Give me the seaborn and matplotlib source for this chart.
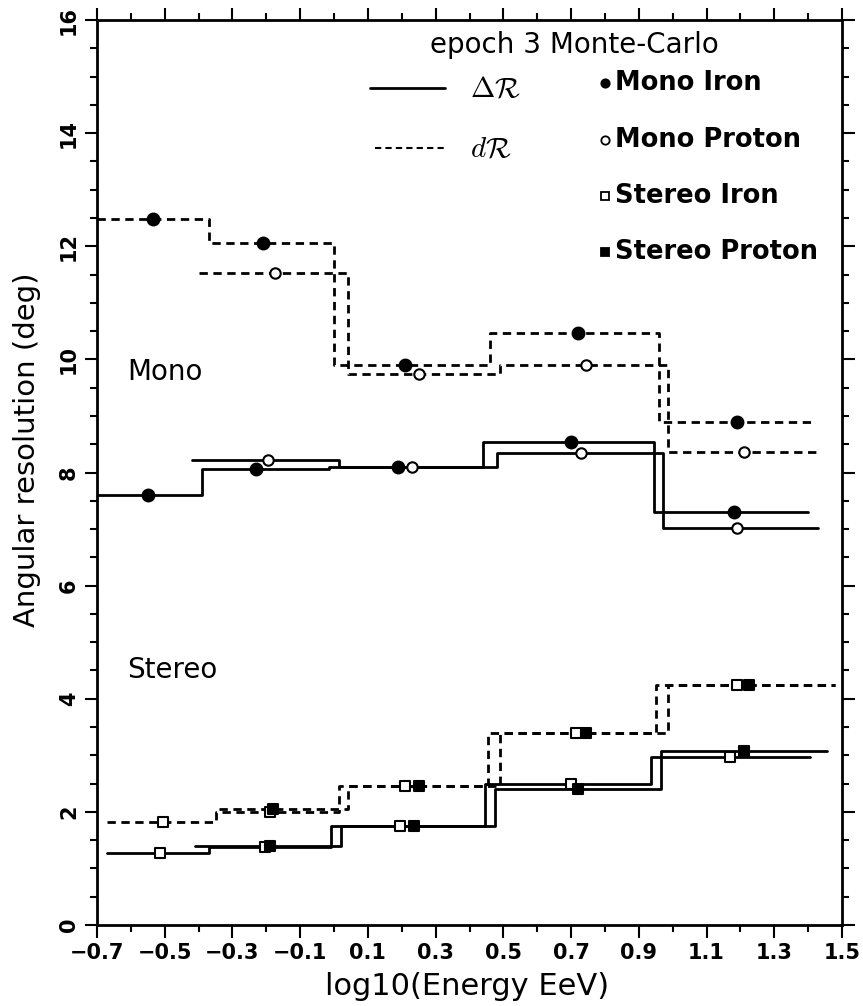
import numpy as np
import pandas as pd
import matplotlib
matplotlib.use("Agg")
import matplotlib.pyplot as plt
import seaborn as sns
from matplotlib.ticker import MultipleLocator, FixedLocator

# ---------------- data ----------------
# Mono, dR (dashed)
mono_iron_dR_edges = [-0.70, -0.37, 0.00, 0.46, 0.96, 1.41]
mono_iron_dR_vals = [12.48, 12.06, 9.90, 10.46, 8.90]
mono_iron_dR_mx = [-0.535, -0.21, 0.21, 0.72, 1.19]

mono_prot_dR_edges = [-0.40, 0.04, 0.49, 0.985, 1.43]
mono_prot_dR_vals = [11.53, 9.74, 9.90, 8.37]
mono_prot_dR_mx = [-0.175, 0.25, 0.745, 1.21]

# Mono, Delta R (solid)
mono_iron_DR_edges = [-0.70, -0.39, -0.015, 0.44, 0.945, 1.40]
mono_iron_DR_vals = [7.61, 8.06, 8.10, 8.54, 7.30]
mono_iron_DR_mx = [-0.55, -0.23, 0.19, 0.70, 1.18]

mono_prot_DR_edges = [-0.42, 0.015, 0.48, 0.97, 1.43]
mono_prot_DR_vals = [8.22, 8.10, 8.35, 7.02]
mono_prot_DR_mx = [-0.195, 0.23, 0.73, 1.19]

# Stereo, dR (dashed)
st_iron_dR_edges = [-0.67, -0.35, 0.015, 0.455, 0.95, 1.48]
st_iron_dR_vals = [1.83, 2.00, 2.45, 3.40, 4.25]
st_iron_dR_mx = [-0.505, -0.19, 0.21, 0.715, 1.19]

st_prot_dR_edges = [-0.34, 0.04, 0.49, 0.985, 1.48]
st_prot_dR_vals = [2.05, 2.45, 3.40, 4.25]
st_prot_dR_mx = [-0.18, 0.25, 0.745, 1.225]

# Stereo, Delta R (solid)
st_iron_DR_edges = [-0.67, -0.37, -0.01, 0.445, 0.935, 1.405]
st_iron_DR_vals = [1.28, 1.38, 1.75, 2.50, 2.97]
st_iron_DR_mx = [-0.515, -0.205, 0.195, 0.70, 1.17]

st_prot_DR_edges = [-0.41, 0.02, 0.475, 0.965, 1.455]
st_prot_DR_vals = [1.40, 1.75, 2.40, 3.08]
st_prot_DR_mx = [-0.19, 0.235, 0.72, 1.21]

x_ticks = [-0.7, -0.5, -0.3, -0.1, 0.1, 0.3, 0.5, 0.7, 0.9, 1.1, 1.3, 1.5]
x_ticklabels = ["\u22120.7", "\u22120.5", "\u22120.3", "\u22120.1", "0.1", "0.3",
                "0.5", "0.7", "0.9", "1.1", "1.3", "1.5"]
y_ticks = [0, 2, 4, 6, 8, 10, 12, 14, 16]

legend_title = "epoch 3 Monte-Carlo"
legend_labels = ["Mono Iron", "Mono Proton", "Stereo Iron", "Stereo Proton"]
line_labels = [r"$\Delta\mathcal{R}$", r"$d\mathcal{R}$"]

# ---------------- style ----------------
sns.set_theme(style="ticks")
plt.rcParams["font.family"] = ["DejaVu Sans"]
plt.rcParams["mathtext.fontset"] = "cm"
for k in ["text.color", "axes.labelcolor", "xtick.color", "ytick.color", "axes.edgecolor"]:
    plt.rcParams[k] = "black"

fig = plt.figure(figsize=(8.63, 10.06), dpi=100)
ax = fig.add_axes([0.1124, 0.0805, 0.8633, 0.8996])

LW = 2.0
DASH = (0, (3, 2))

def step(edges, vals, ls):
    df = pd.DataFrame({"x": edges, "y": list(vals) + [vals[-1]]})
    sns.lineplot(data=df, x="x", y="y", ax=ax, color="black", lw=LW,
                 linestyle=ls, drawstyle="steps-post", sort=False,
                 estimator=None, legend=False)

def marks(mx, vals, marker, filled, size=8.5):
    df = pd.DataFrame({"x": mx, "y": vals})
    sns.scatterplot(data=df, x="x", y="y", ax=ax, marker=marker, s=size**2,
                    facecolor="black" if filled else "white",
                    edgecolor="black", linewidth=1.5, zorder=5, legend=False)

step(mono_iron_dR_edges, mono_iron_dR_vals, DASH)
step(mono_prot_dR_edges, mono_prot_dR_vals, DASH)
step(mono_iron_DR_edges, mono_iron_DR_vals, "-")
step(mono_prot_DR_edges, mono_prot_DR_vals, "-")
step(st_iron_dR_edges, st_iron_dR_vals, DASH)
step(st_prot_dR_edges, st_prot_dR_vals, DASH)
step(st_iron_DR_edges, st_iron_DR_vals, "-")
step(st_prot_DR_edges, st_prot_DR_vals, "-")

marks(mono_iron_dR_mx, mono_iron_dR_vals, "o", True)
marks(mono_prot_dR_mx, mono_prot_dR_vals, "o", False, 7.5)
marks(mono_iron_DR_mx, mono_iron_DR_vals, "o", True)
marks(mono_prot_DR_mx, mono_prot_DR_vals, "o", False, 7.5)
marks(st_iron_dR_mx, st_iron_dR_vals, "s", False, 7.5)
marks(st_prot_dR_mx, st_prot_dR_vals, "s", True, 7.5)
marks(st_iron_DR_mx, st_iron_DR_vals, "s", False, 7.5)
marks(st_prot_DR_mx, st_prot_DR_vals, "s", True, 7.5)

# ---------------- axes ----------------
ax.set_xlim(-0.7, 1.5)
ax.set_ylim(0, 16)
ax.xaxis.set_major_locator(FixedLocator(x_ticks))
ax.xaxis.set_minor_locator(MultipleLocator(0.1))
ax.set_xticklabels(x_ticklabels, fontsize=15, fontweight="bold")
ax.yaxis.set_major_locator(FixedLocator(y_ticks))
ax.yaxis.set_minor_locator(MultipleLocator(0.5))
ax.set_yticklabels([str(t) for t in y_ticks], fontsize=15, fontweight="bold",
                   rotation=90, va="center")
ax.tick_params(which="both", direction="out", top=True, right=True,
               width=1.5, color="black")
ax.tick_params(which="major", length=9, pad=4)
ax.tick_params(which="minor", length=5)
for s in ax.spines.values():
    s.set_linewidth(2.0)
    s.set_color("black")
ax.set_xlabel("log10(Energy EeV)", fontsize=22)
ax.xaxis.set_label_coords(0.497, -0.052)
ax.set_ylabel("Angular resolution (deg)", fontsize=21)
ax.yaxis.set_label_coords(-0.075, 0.525)

# region labels
ax.text(-0.61, 9.78, "Mono", fontsize=20, va="center", ha="left")
ax.text(-0.61, 4.5, "Stereo", fontsize=20, va="center", ha="left")

# ---------------- legend block ----------------
ax.text(0.71, 15.55, legend_title, fontsize=20, ha="center", va="center")
leg_line_y = [14.79, 13.73]
ax.plot([0.106, 0.328], [leg_line_y[0]] * 2, color="black", lw=LW)
ax.plot([0.121, 0.328], [leg_line_y[1]] * 2, color="black", lw=1.5, linestyle=(0, (3, 2)))
for yy, lab in zip(leg_line_y, line_labels):
    ax.text(0.40, yy, lab, fontsize=21, ha="left", va="center")

leg_y = [14.89, 13.87, 12.88, 11.89]
leg_marker = ["o", "o", "s", "s"]
leg_fill = [True, False, False, True]
for yy, m, f, lab in zip(leg_y, leg_marker, leg_fill, legend_labels):
    ax.plot([0.80], [yy], marker=m, ms=6 if m == "o" else 5.5,
            mfc="black" if f else "white", mec="black", mew=1.3, ls="none")
    ax.text(0.83, yy, lab, fontsize=18.5, fontweight="bold", ha="left", va="center")

fig.savefig("out.png", dpi=100)
